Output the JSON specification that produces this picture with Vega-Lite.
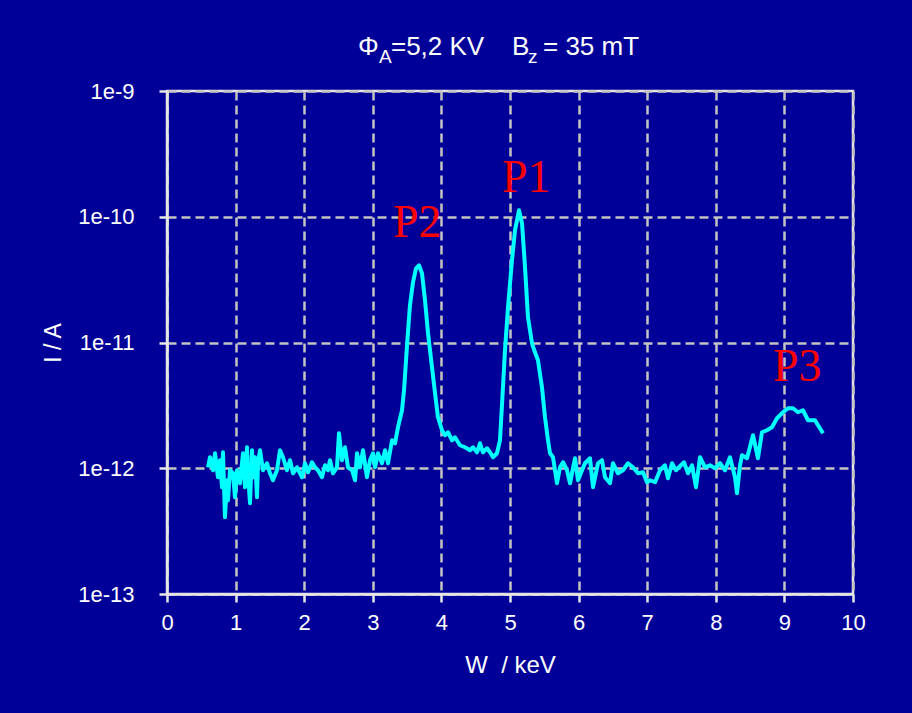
{
  "$schema": "https://vega.github.io/schema/vega-lite/v6.json",
  "width": 686,
  "height": 503,
  "autosize": {"type": "none"},
  "padding": {"left": 167, "top": 91, "right": 59, "bottom": 119},
  "background": "#000099",
  "config": {
    "view": {"stroke": "#e6e6e6", "strokeWidth": 2.5},
    "font": "Liberation Sans"
  },
  "datasets": {
    "curve": [
      {"W":0.598,"I":1.018e-12},{"W":0.627,"I":1.223e-12},{"W":0.671,"I":0.964e-12},{"W":0.700,"I":1.316e-12},
      {"W":0.743,"I":0.848e-12},{"W":0.773,"I":1.158e-12},{"W":0.802,"I":0.706e-12},{"W":0.816,"I":1.340e-12},
      {"W":0.845,"I":0.408e-12},{"W":0.875,"I":0.803e-12},{"W":0.889,"I":0.556e-12},{"W":0.918,"I":0.964e-12},
      {"W":0.962,"I":0.912e-12},{"W":0.991,"I":0.588e-12},{"W":1.020,"I":0.964e-12},{"W":1.064,"I":0.760e-12},
      {"W":1.108,"I":1.316e-12},{"W":1.137,"I":0.706e-12},{"W":1.166,"I":1.469e-12},{"W":1.181,"I":0.912e-12},
      {"W":1.210,"I":0.527e-12},{"W":1.239,"I":1.390e-12},{"W":1.254,"I":0.848e-12},{"W":1.283,"I":1.223e-12},
      {"W":1.312,"I":0.588e-12},{"W":1.327,"I":1.096e-12},{"W":1.356,"I":1.390e-12},{"W":1.399,"I":0.964e-12},
      {"W":1.458,"I":1.096e-12},{"W":1.501,"I":0.912e-12},{"W":1.545,"I":0.803e-12},{"W":1.603,"I":0.964e-12},
      {"W":1.647,"I":1.390e-12},{"W":1.691,"I":1.223e-12},{"W":1.749,"I":0.964e-12},{"W":1.793,"I":1.158e-12},
      {"W":1.837,"I":0.912e-12},{"W":1.895,"I":1.018e-12},{"W":1.968,"I":0.848e-12},{"W":2.012,"I":1.096e-12},
      {"W":2.055,"I":0.929e-12},{"W":2.114,"I":1.116e-12},{"W":2.157,"I":1.018e-12},{"W":2.201,"I":0.964e-12},
      {"W":2.259,"I":0.848e-12},{"W":2.303,"I":1.056e-12},{"W":2.347,"I":0.964e-12},{"W":2.376,"I":1.158e-12},
      {"W":2.420,"I":0.912e-12},{"W":2.478,"I":1.018e-12},{"W":2.507,"I":1.898e-12},{"W":2.551,"I":1.158e-12},
      {"W":2.595,"I":1.469e-12},{"W":2.638,"I":1.018e-12},{"W":2.697,"I":0.964e-12},{"W":2.741,"I":0.803e-12},
      {"W":2.770,"I":1.316e-12},{"W":2.813,"I":1.018e-12},{"W":2.857,"I":1.390e-12},{"W":2.915,"I":0.848e-12},
      {"W":2.959,"I":1.158e-12},{"W":3.003,"I":1.316e-12},{"W":3.032,"I":1.018e-12},{"W":3.076,"I":1.316e-12},
      {"W":3.134,"I":1.096e-12},{"W":3.178,"I":1.390e-12},{"W":3.222,"I":1.096e-12},{"W":3.280,"I":1.670e-12},
      {"W":3.324,"I":1.580e-12},{"W":3.367,"I":2.118e-12},{"W":3.426,"I":2.893e-12},{"W":3.455,"I":4.17e-12},
      {"W":3.499,"I":9.51e-12},{"W":3.542,"I":19.8e-12},{"W":3.586,"I":30.1e-12},{"W":3.630,"I":38.9e-12},
      {"W":3.673,"I":41.1e-12},{"W":3.717,"I":35.5e-12},{"W":3.761,"I":21.7e-12},{"W":3.805,"I":11.84e-12},
      {"W":3.863,"I":6.36e-12},{"W":3.907,"I":3.95e-12},{"W":3.950,"I":2.544e-12},{"W":4.009,"I":2.006e-12},
      {"W":4.052,"I":1.830e-12},{"W":4.096,"I":1.933e-12},{"W":4.155,"I":1.670e-12},{"W":4.198,"I":1.764e-12},
      {"W":4.271,"I":1.524e-12},{"W":4.344,"I":1.469e-12},{"W":4.417,"I":1.390e-12},{"W":4.461,"I":1.469e-12},
      {"W":4.519,"I":1.340e-12},{"W":4.563,"I":1.580e-12},{"W":4.606,"I":1.340e-12},{"W":4.665,"I":1.442e-12},
      {"W":4.708,"I":1.340e-12},{"W":4.752,"I":1.223e-12},{"W":4.810,"I":1.316e-12},{"W":4.854,"I":1.670e-12},
      {"W":4.883,"I":3.17e-12},{"W":4.927,"I":8.68e-12},{"W":4.971,"I":19.06e-12},{"W":5.029,"I":45.1e-12},
      {"W":5.073,"I":78.1e-12},{"W":5.131,"I":112.6e-12},{"W":5.175,"I":88.8e-12},{"W":5.219,"I":39.6e-12},
      {"W":5.262,"I":15.87e-12},{"W":5.321,"I":9.86e-12},{"W":5.364,"I":8.36e-12},{"W":5.408,"I":7.22e-12},
      {"W":5.466,"I":4.41e-12},{"W":5.510,"I":2.544e-12},{"W":5.554,"I":1.670e-12},{"W":5.583,"I":1.316e-12},
      {"W":5.627,"I":1.223e-12},{"W":5.685,"I":0.760e-12},{"W":5.729,"I":1.018e-12},{"W":5.773,"I":1.116e-12},
      {"W":5.831,"I":0.964e-12},{"W":5.875,"I":0.760e-12},{"W":5.948,"I":1.201e-12},{"W":5.991,"I":0.803e-12},
      {"W":6.050,"I":0.964e-12},{"W":6.093,"I":1.096e-12},{"W":6.166,"I":1.201e-12},{"W":6.210,"I":0.706e-12},
      {"W":6.283,"I":1.096e-12},{"W":6.341,"I":1.158e-12},{"W":6.385,"I":0.848e-12},{"W":6.458,"I":0.760e-12},
      {"W":6.501,"I":1.096e-12},{"W":6.574,"I":0.912e-12},{"W":6.647,"I":0.964e-12},{"W":6.720,"I":1.096e-12},
      {"W":6.793,"I":1.018e-12},{"W":6.866,"I":0.912e-12},{"W":6.939,"I":0.929e-12},{"W":6.997,"I":0.774e-12},
      {"W":7.041,"I":0.803e-12},{"W":7.114,"I":0.774e-12},{"W":7.187,"I":0.964e-12},{"W":7.259,"I":1.056e-12},
      {"W":7.303,"I":0.833e-12},{"W":7.362,"I":1.096e-12},{"W":7.420,"I":0.964e-12},{"W":7.478,"I":1.037e-12},
      {"W":7.536,"I":1.116e-12},{"W":7.595,"I":0.912e-12},{"W":7.653,"I":1.056e-12},{"W":7.711,"I":0.706e-12},
      {"W":7.770,"I":1.223e-12},{"W":7.843,"I":1.018e-12},{"W":7.915,"I":1.056e-12},{"W":7.988,"I":1.0e-12},
      {"W":8.061,"I":1.096e-12},{"W":8.134,"I":0.964e-12},{"W":8.207,"I":1.223e-12},{"W":8.280,"I":0.848e-12},
      {"W":8.309,"I":0.633e-12},{"W":8.353,"I":1.056e-12},{"W":8.382,"I":1.269e-12},{"W":8.455,"I":1.201e-12},
      {"W":8.542,"I":1.830e-12},{"W":8.615,"I":1.201e-12},{"W":8.673,"I":1.933e-12},{"W":8.746,"I":2.006e-12},
      {"W":8.819,"I":2.118e-12},{"W":8.892,"I":2.498e-12},{"W":8.980,"I":2.788e-12},{"W":9.052,"I":3.00e-12},
      {"W":9.125,"I":3.00e-12},{"W":9.198,"I":2.788e-12},{"W":9.271,"I":2.893e-12},{"W":9.344,"I":2.408e-12},
      {"W":9.446,"I":2.408e-12},{"W":9.490,"I":2.198e-12},{"W":9.563,"I":1.898e-12}
    ],
    "peaks": [
      {"W":4.883,"I":1.574e-10,"label":"P1"},
      {"W":3.294,"I":6.90e-11,"label":"P2"},
      {"W":8.834,"I":4.94e-12,"label":"P3"}
    ],
    "titlemain": [
      {"W":2.784,"I":1.933e-9,"label":"Φ"},
      {"W":3.265,"I":1.933e-9,"label":"=5,2 KV"},
      {"W":5.029,"I":1.933e-9,"label":"B"},
      {"W":5.481,"I":1.933e-9,"label":"= 35 mT"}
    ],
    "titlesub": [
      {"W":3.090,"I":1.670e-9,"label":"A"},
      {"W":5.262,"I":1.670e-9,"label":"z"}
    ]
  },
  "encoding": {
    "x": {
      "field": "W", "type": "quantitative",
      "scale": {"domain": [0, 10], "nice": false, "zero": false},
      "axis": {
        "title": "W\u00a0\u00a0/ keV", "values": [0,1,2,3,4,5,6,7,8,9,10], "labelFlush": false,
        "grid": true, "gridColor": "#c4c4c4", "gridWidth": 2.5, "gridDash": [9, 5],
        "domainColor": "#e6e6e6", "domainWidth": 2.5,
        "tickColor": "#e6e6e6", "tickWidth": 2.5, "tickSize": 8,
        "labelColor": "#ffffff", "labelFontSize": 22, "labelPadding": 10, "labelFont": "Liberation Sans",
        "titleColor": "#ffffff", "titleFontSize": 24, "titleFontWeight": "normal", "titlePadding": 20, "titleFont": "Liberation Sans"
      }
    },
    "y": {
      "field": "I", "type": "quantitative",
      "scale": {"type": "log", "domain": [1e-13, 1e-9], "nice": false},
      "axis": {
        "title": "I / A", "values": [1e-13, 1e-12, 1e-11, 1e-10, 1e-9], "labelFlush": false,
        "labelExpr": "'1e' + round(log(datum.value) / LN10)",
        "grid": true, "gridColor": "#c4c4c4", "gridWidth": 2.5, "gridDash": [9, 5],
        "domainColor": "#e6e6e6", "domainWidth": 2.5,
        "tickColor": "#e6e6e6", "tickWidth": 2.5, "tickSize": 8,
        "labelColor": "#ffffff", "labelFontSize": 22, "labelPadding": 25, "labelFont": "Liberation Sans",
        "titleColor": "#ffffff", "titleFontSize": 23, "titleFontWeight": "normal", "titlePadding": 12, "titleFont": "Liberation Sans"
      }
    }
  },
  "layer": [
    {
      "data": {"name": "curve"},
      "mark": {"type": "line", "color": "#00ffff", "strokeWidth": 4, "strokeJoin": "round"}
    },
    {
      "data": {"name": "peaks"},
      "mark": {"type": "text", "color": "#ff0000", "font": "Liberation Serif", "fontSize": 46, "align": "left", "baseline": "alphabetic"},
      "encoding": {"text": {"field": "label"}}
    },
    {
      "data": {"name": "titlemain"},
      "mark": {"type": "text", "color": "#ffffff", "font": "Liberation Sans", "fontSize": 26, "align": "left", "baseline": "alphabetic"},
      "encoding": {"text": {"field": "label"}}
    },
    {
      "data": {"name": "titlesub"},
      "mark": {"type": "text", "color": "#ffffff", "font": "Liberation Sans", "fontSize": 19, "align": "left", "baseline": "alphabetic"},
      "encoding": {"text": {"field": "label"}}
    }
  ]
}
